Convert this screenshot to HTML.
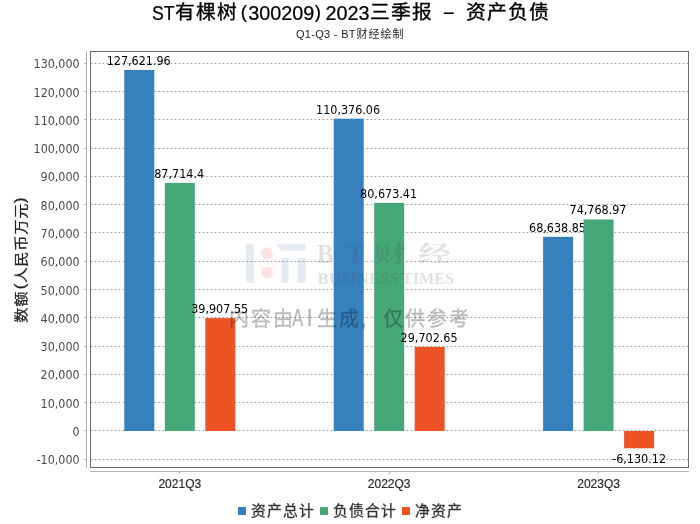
<!DOCTYPE html>
<html lang="zh-CN"><head><meta charset="utf-8"><title>ST有棵树(300209)2023三季报 - 资产负债</title>
<style>html,body{margin:0;padding:0;background:#fff;}body{width:700px;height:524px;overflow:hidden;}svg{display:block;}text{white-space:pre;}</style>
</head><body>
<svg width="700" height="524" viewBox="0 0 700 524">
<rect x="0" y="0" width="700" height="524" fill="#ffffff"/>
<text transform="scale(1,0.95)" font-family='"Liberation Sans", "Noto Sans CJK SC", sans-serif' fill="#000" stroke="#000" stroke-width="0.25" font-size="21px" y="20.63"><tspan x="152" y="20.63" textLength="22.5" lengthAdjust="spacingAndGlyphs">ST</tspan><tspan font-size="19.8px" stroke-width="0.35" y="19.89" x="175.10 196.10 217.10">有棵树</tspan><tspan x="240.8" y="18.74" font-size="18.7px">(</tspan><tspan x="248.3" y="20.63" textLength="66" lengthAdjust="spacingAndGlyphs">300209</tspan><tspan x="314.7" y="18.74" font-size="18.7px">)</tspan><tspan x="325.6" y="20.63" textLength="44" lengthAdjust="spacingAndGlyphs">2023</tspan><tspan font-size="19.8px" stroke-width="0.35" y="19.89" x="370.10 391.10 412.10">三季报</tspan><tspan x="432.5" y="20.32"> </tspan><tspan x="442" y="20.32" stroke-width="0" textLength="13.5" lengthAdjust="spacingAndGlyphs">-</tspan><tspan x="454.5" y="20.32"> </tspan><tspan font-size="19.8px" stroke-width="0.35" y="19.89" x="466.10 487.10 508.10 529.10">资产负债</tspan></text>
<text y="38" font-family='"Liberation Sans", "Noto Sans CJK SC", sans-serif' font-size="11px" fill="#222"><tspan x="296" font-size="11px" textLength="59.5" lengthAdjust="spacing">Q1-Q3 - BT</tspan><tspan x="356.50 368.50 380.50 392.50" y="37.6">财经绘制</tspan></text>
<g stroke="#a0a0a0" stroke-width="1" stroke-dasharray="1.8,2.2">
<line x1="90.5" y1="459.5" x2="688.5" y2="459.5"/>
<line x1="90.5" y1="430.5" x2="688.5" y2="430.5"/>
<line x1="90.5" y1="402.5" x2="688.5" y2="402.5"/>
<line x1="90.5" y1="374.5" x2="688.5" y2="374.5"/>
<line x1="90.5" y1="346.5" x2="688.5" y2="346.5"/>
<line x1="90.5" y1="317.5" x2="688.5" y2="317.5"/>
<line x1="90.5" y1="289.5" x2="688.5" y2="289.5"/>
<line x1="90.5" y1="261.5" x2="688.5" y2="261.5"/>
<line x1="90.5" y1="232.5" x2="688.5" y2="232.5"/>
<line x1="90.5" y1="204.5" x2="688.5" y2="204.5"/>
<line x1="90.5" y1="176.5" x2="688.5" y2="176.5"/>
<line x1="90.5" y1="148.5" x2="688.5" y2="148.5"/>
<line x1="90.5" y1="119.5" x2="688.5" y2="119.5"/>
<line x1="90.5" y1="91.5" x2="688.5" y2="91.5"/>
<line x1="90.5" y1="63.5" x2="688.5" y2="63.5"/>
</g>
<g font-family='"DejaVu Sans", "Liberation Sans", sans-serif' font-size="12px" text-anchor="middle">
<rect x="124.3" y="70.0" width="30.0" height="361.0" fill="#3680be"/>
<text x="138.7" y="65" fill="#000" textLength="64" lengthAdjust="spacingAndGlyphs">127,621.96</text>
<rect x="333.7" y="118.7" width="30.0" height="312.3" fill="#3680be"/>
<text x="348.1" y="114" fill="#000" textLength="64" lengthAdjust="spacingAndGlyphs">110,376.06</text>
<rect x="543.1" y="236.8" width="30.0" height="194.2" fill="#3680be"/>
<text x="557.5" y="232" fill="#000" textLength="57" lengthAdjust="spacingAndGlyphs">68,638.85</text>
<rect x="164.8" y="182.9" width="30.0" height="248.1" fill="#46a878"/>
<text x="179.2" y="178" fill="#000" textLength="50" lengthAdjust="spacingAndGlyphs">87,714.4</text>
<rect x="374.2" y="202.8" width="30.0" height="228.2" fill="#46a878"/>
<text x="388.6" y="198" fill="#000" textLength="57" lengthAdjust="spacingAndGlyphs">80,673.41</text>
<rect x="583.6" y="219.5" width="30.0" height="211.5" fill="#46a878"/>
<text x="598.0" y="214" fill="#000" textLength="57" lengthAdjust="spacingAndGlyphs">74,768.97</text>
<rect x="205.3" y="318.1" width="30.0" height="112.9" fill="#ee5326"/>
<text x="219.7" y="313" fill="#000" textLength="57" lengthAdjust="spacingAndGlyphs">39,907.55</text>
<rect x="414.7" y="347.0" width="30.0" height="84.0" fill="#ee5326"/>
<text x="429.1" y="342" fill="#000" textLength="57" lengthAdjust="spacingAndGlyphs">29,702.65</text>
<rect x="624.1" y="431.0" width="30.0" height="17.3" fill="#ee5326"/>
<text x="639.1" y="463" fill="#000" textLength="54" lengthAdjust="spacingAndGlyphs">-6,130.12</text>
</g>
<g fill="none" shape-rendering="crispEdges">
<rect x="90.5" y="51.5" width="598" height="416" stroke="#6a6a6a"/>
<line x1="86.5" y1="51" x2="86.5" y2="468" stroke="#b4b4b4"/>
<line x1="90" y1="471.5" x2="689" y2="471.5" stroke="#b4b4b4"/>
<g stroke="#b4b4b4">
<line x1="84" y1="459.5" x2="87" y2="459.5"/>
<line x1="84" y1="430.5" x2="87" y2="430.5"/>
<line x1="84" y1="402.5" x2="87" y2="402.5"/>
<line x1="84" y1="374.5" x2="87" y2="374.5"/>
<line x1="84" y1="346.5" x2="87" y2="346.5"/>
<line x1="84" y1="317.5" x2="87" y2="317.5"/>
<line x1="84" y1="289.5" x2="87" y2="289.5"/>
<line x1="84" y1="261.5" x2="87" y2="261.5"/>
<line x1="84" y1="232.5" x2="87" y2="232.5"/>
<line x1="84" y1="204.5" x2="87" y2="204.5"/>
<line x1="84" y1="176.5" x2="87" y2="176.5"/>
<line x1="84" y1="148.5" x2="87" y2="148.5"/>
<line x1="84" y1="119.5" x2="87" y2="119.5"/>
<line x1="84" y1="91.5" x2="87" y2="91.5"/>
<line x1="84" y1="63.5" x2="87" y2="63.5"/>
<line x1="179.5" y1="471" x2="179.5" y2="474"/>
<line x1="389.5" y1="471" x2="389.5" y2="474"/>
<line x1="598.5" y1="471" x2="598.5" y2="474"/>
</g></g>
<g font-family='"DejaVu Sans", "Liberation Sans", sans-serif' font-size="12px" fill="#4a4a4a" text-anchor="end">
<text x="79.6" y="464" textLength="43" lengthAdjust="spacingAndGlyphs">-10,000</text>
<text x="79.6" y="436" textLength="7" lengthAdjust="spacingAndGlyphs">0</text>
<text x="79.6" y="408" textLength="39" lengthAdjust="spacingAndGlyphs">10,000</text>
<text x="79.6" y="379" textLength="39" lengthAdjust="spacingAndGlyphs">20,000</text>
<text x="79.6" y="351" textLength="39" lengthAdjust="spacingAndGlyphs">30,000</text>
<text x="79.6" y="323" textLength="39" lengthAdjust="spacingAndGlyphs">40,000</text>
<text x="79.6" y="295" textLength="39" lengthAdjust="spacingAndGlyphs">50,000</text>
<text x="79.6" y="266" textLength="39" lengthAdjust="spacingAndGlyphs">60,000</text>
<text x="79.6" y="238" textLength="39" lengthAdjust="spacingAndGlyphs">70,000</text>
<text x="79.6" y="210" textLength="39" lengthAdjust="spacingAndGlyphs">80,000</text>
<text x="79.6" y="181" textLength="39" lengthAdjust="spacingAndGlyphs">90,000</text>
<text x="79.6" y="153" textLength="46" lengthAdjust="spacingAndGlyphs">100,000</text>
<text x="79.6" y="125" textLength="46" lengthAdjust="spacingAndGlyphs">110,000</text>
<text x="79.6" y="97" textLength="46" lengthAdjust="spacingAndGlyphs">120,000</text>
<text x="79.6" y="68" textLength="46" lengthAdjust="spacingAndGlyphs">130,000</text>
</g>
<g font-family='"Liberation Sans", "Noto Sans CJK SC", sans-serif' font-size="12px" fill="#2a2a2a" stroke="#2a2a2a" stroke-width="0.2" text-anchor="middle">
<text x="179.8" y="488">2021Q3</text>
<text x="389.2" y="488">2022Q3</text>
<text x="598.6" y="488">2023Q3</text>
</g>
<text transform="translate(26.3,323.2) rotate(-90) scale(1,0.88)" font-family='"Liberation Sans", "Noto Sans CJK SC", sans-serif' font-size="15.2px" fill="#222" stroke="#222" stroke-width="0.3"><tspan x="0.40 16.40">数额</tspan><tspan x="34" y="-1.9" font-size="16.5px">(</tspan><tspan x="40.40 56.40 72.40 88.40 104.40" y="0">人民币万元</tspan><tspan x="120.3" y="-1.9" font-size="16.5px">)</tspan></text>
<g font-family='"Liberation Sans", "Noto Sans CJK SC", sans-serif' font-size="14.8px" fill="#333" stroke="#333" stroke-width="0.3">
<rect x="238" y="507" width="8" height="8" fill="#3680be" stroke="none"/><text x="251.10 267.10 283.10 299.10" y="516">资产总计</text>
<rect x="320" y="507" width="8" height="8" fill="#46a878" stroke="none"/><text x="333.10 349.10 365.10 381.10" y="516">负债合计</text>
<rect x="402" y="507" width="8" height="8" fill="#ee5326" stroke="none"/><text x="415.10 431.10 447.10" y="516">净资产</text>
</g>
<g opacity="0.15">
<rect x="246" y="244.3" width="8" height="38.5" fill="#4b7aaf"/>
<circle cx="267" cy="253.3" r="6" fill="#e64b4b"/><circle cx="267" cy="272.5" r="6" fill="#e64b4b"/>
<polygon points="276.4,244.3 305.7,244.3 305.7,250.6 281.4,250.6" fill="#4b7aaf"/>
<rect x="281.4" y="258" width="7.2" height="24.8" fill="#4b7aaf"/>
<rect x="297.4" y="258" width="8.3" height="24.8" fill="#4b7aaf"/>
<g font-family='"Liberation Serif", "Noto Serif CJK SC", serif' font-weight="bold" fill="#404040">
<text y="263" font-size="28px"><tspan x="317" textLength="16.5" lengthAdjust="spacingAndGlyphs">B</tspan><tspan x="346" textLength="18.5" lengthAdjust="spacingAndGlyphs">T</tspan></text>
<text transform="translate(373.5,262) scale(1.42,1)" font-size="23px"><tspan x="0">财</tspan><tspan x="31.5">经</tspan></text>
<text y="283.8" font-size="17.5px"><tspan x="317.5" textLength="81.5" lengthAdjust="spacingAndGlyphs">BUSINESS</tspan> <tspan x="402" textLength="52" lengthAdjust="spacingAndGlyphs">TIMES</tspan></text>
</g>
</g>
<text y="326" font-family='"Liberation Sans", "Noto Sans CJK SC", sans-serif' font-size="20px" fill="#000" stroke="#000" stroke-width="0.4" opacity="0.27"><tspan x="229.00 251.00 273.00">内容由</tspan><tspan x="292.3" font-size="23px" textLength="11" lengthAdjust="spacingAndGlyphs">A</tspan><tspan x="306.6" font-size="23px">I</tspan><tspan x="317.00 339.00">生成</tspan><tspan x="361">,</tspan><tspan x="383.00 405.00 427.00 449.00">仅供参考</tspan></text>
</svg>
</body></html>
